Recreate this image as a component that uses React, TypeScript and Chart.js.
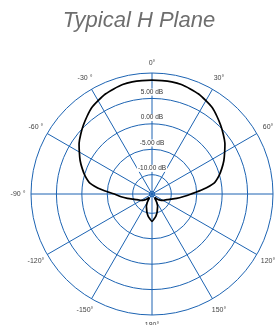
import React, { useEffect, useRef } from 'react';
import { Chart, registerables } from 'chart.js';

Chart.register(...registerables);

const TITLE = 'Typical H Plane';

// Angle of each sample, degrees clockwise from the top (0°)
const ANGLES = [
  0, 5, 10, 15, 20, 25, 30, 35, 40, 45, 50, 55,
  60, 65, 70, 75, 80, 85, 90, 95, 100, 105, 110, 115,
  120, 125, 130, 135, 140, 145, 150, 155, 160, 165, 170, 175,
  180, 185, 190, 195, 200, 205, 210, 215, 220, 225, 230, 235,
  240, 245, 250, 255, 260, 265, 270, 275, 280, 285, 290, 295,
  300, 305, 310, 315, 320, 325, 330, 335, 340, 345, 350, 355,
];

// Response in dB at each angle
const RESPONSE_DB = [
  8.6, 8.6, 8.6, 8.5, 8.2, 7.9, 7.4, 6.9, 6.1, 5.3, 4.5, 3.7,
  2.7, 1.8, 0.8, -0.2, -1.4, -3.8, -6.1, -7.7, -8.9, -9.9, -10.6, -11.0,
  -11.3, -11.6, -12.0, -12.4, -12.8, -12.8, -12.0, -11.2, -10.7, -10.0, -9.4, -8.9,
  -8.4, -8.9, -9.4, -10.0, -10.7, -11.2, -12.0, -12.8, -12.8, -12.4, -12.0, -11.6,
  -11.3, -11.0, -10.6, -9.9, -8.9, -7.7, -6.4, -3.8, -1.4, -0.2, 0.8, 1.8,
  2.7, 3.7, 4.5, 5.3, 6.1, 6.9, 7.4, 7.9, 8.2, 8.5, 8.6, 8.6,
];

// Angle labels every 30°
const ANGLE_LABELS = ['0°', '30°', '60°', '90°', '120°', '150°', '180°', '-150°', '-120°', '-90 °', '-60 °', '-30 °'];
const ANGLE_LABEL_STEP = 6; // every 6th sample (30°)

const SCALE_MIN = -13.8;
const SCALE_MAX = 10;
const RING_VALUES = [-13.3, -10, -5, 0, 5, 10];
const RING_LABEL_VALUES = [5, 0, -5, -10];
const RING_LABELS = ['5.00 dB', '0.00 dB', '-5.00 dB', '-10.00 dB'];

const GRID_COLOR = '#1c63b2';
const FONT_FAMILY = '"Liberation Sans", Arial, Helvetica, sans-serif';

const labelPlugin = {
  id: 'polarLabels',
  beforeDatasetsDraw(chart: any) {
    const scale = chart.scales.r;
    const ctx = chart.ctx;
    ctx.save();
    // ring labels (dB)
    ctx.font = `6.5px ${FONT_FAMILY}`;
    ctx.textAlign = 'center';
    ctx.textBaseline = 'middle';
    RING_LABEL_VALUES.forEach((v, i) => {
      const d = scale.getDistanceFromCenterForValue(v);
      const y = scale.yCenter - d - 6.3;
      const text = RING_LABELS[i];
      const w = ctx.measureText(text).width;
      ctx.fillStyle = '#ffffff';
      ctx.fillRect(scale.xCenter - w / 2 - 1, y - 3.5, w + 2, 7);
      ctx.fillStyle = '#333333';
      ctx.fillText(text, scale.xCenter, y);
    });
    // angle labels
    ctx.font = `7px ${FONT_FAMILY}`;
    ctx.fillStyle = '#444444';
    ANGLE_LABELS.forEach((text, k) => {
      const idx = k * ANGLE_LABEL_STEP;
      const isVertical = k === 0 || k === 6;
      const dist = scale.drawingArea + (isVertical ? 10 : 13);
      const p = scale.getPointPosition(idx, dist);
      ctx.fillText(text, p.x, p.y);
    });
    ctx.restore();
  },
};

export default function App() {
  const canvasRef = useRef<HTMLCanvasElement | null>(null);

  useEffect(() => {
    if (!canvasRef.current) return;
    const chart = new Chart(canvasRef.current, {
      type: 'radar',
      data: {
        labels: ANGLES,
        datasets: [
          {
            data: RESPONSE_DB,
            borderColor: '#000000',
            borderWidth: 1.7,
            backgroundColor: 'transparent',
            fill: false,
            pointRadius: 0,
            pointHoverRadius: 0,
            tension: 0.25,
          },
        ],
      },
      options: {
        responsive: false,
        devicePixelRatio: 1,
        animation: false,
        layout: { padding: { left: 23, right: 23, top: 23, bottom: 23 } },
        plugins: {
          legend: { display: false },
          tooltip: { enabled: false },
          title: { display: false },
        },
        scales: {
          r: {
            min: SCALE_MIN,
            max: SCALE_MAX,
            startAngle: 0,
            afterBuildTicks: (scale: any) => {
              scale.ticks = RING_VALUES.map((v) => ({ value: v }));
            },
            ticks: { display: false },
            grid: { circular: true, color: GRID_COLOR, lineWidth: 1 },
            angleLines: {
              color: GRID_COLOR,
              lineWidth: (ctx: any) => (ctx.index % ANGLE_LABEL_STEP === 0 ? 1 : 0),
            },
            pointLabels: { display: false },
          },
        },
      },
      plugins: [labelPlugin],
    } as any);
    return () => chart.destroy();
  }, []);

  return (
    <div style={{ position: 'fixed', left: 8, top: 8, width: 270, height: 317, overflow: 'hidden' }}>
      <div
        style={{
          position: 'absolute',
          left: 0,
          top: 0,
          width: 262,
          textAlign: 'center',
          fontFamily: FONT_FAMILY,
          fontStyle: 'italic',
          fontSize: 22,
          lineHeight: '24px',
          color: '#6e6e6e',
        }}
      >
        {TITLE}
      </div>
      <canvas
        ref={canvasRef}
        width={288}
        height={288}
        style={{ position: 'absolute', left: 0, top: 42, width: 288, height: 288 }}
      />
    </div>
  );
}
